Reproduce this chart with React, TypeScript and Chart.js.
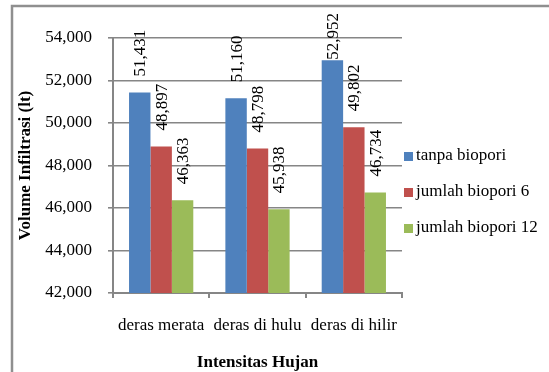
import React, { useEffect, useRef } from "react";
import { Chart, registerables } from "chart.js";

Chart.register(...registerables);

const categories = ["deras merata", "deras di hulu", "deras di hilir"];
const seriesNames = ["tanpa biopori", "jumlah biopori 6", "jumlah biopori 12"];
const tanpaBiopori = [51431, 51160, 52952];
const biopori6 = [48897, 48798, 49802];
const biopori12 = [46363, 45938, 46734];
const seriesColors = ["#4F81BD", "#C0504D", "#9BBB59"];
const yMin = 42000;
const yMax = 54000;
const yStep = 2000;
const xTitle = "Intensitas Hujan";
const yTitle = "Volume Infiltrasi (lt)";

const FONT = "'Liberation Serif', 'Times New Roman', serif";
const GRID = "#868686";

const fmt = (v: number) => v.toLocaleString("en-US");

// Frame, axis titles, legend and rotated value labels
const decorations = {
  id: "decorations",
  beforeDraw(chart: any) {
    const ctx = chart.ctx;
    ctx.save();
    ctx.fillStyle = "#ffffff";
    ctx.fillRect(0, 0, chart.width, chart.height);
    ctx.strokeStyle = "#8f8f8f";
    ctx.lineWidth = 2.5;
    ctx.strokeRect(12, 6, chart.width + 40, chart.height + 40);
    ctx.restore();
  },
  afterDatasetsDraw(chart: any) {
    const ctx = chart.ctx;
    ctx.save();
    ctx.font = `17px ${FONT}`;
    ctx.fillStyle = "#000";
    ctx.textAlign = "left";
    ctx.textBaseline = "middle";
    chart.data.datasets.forEach((ds: any, di: number) => {
      const meta = chart.getDatasetMeta(di);
      meta.data.forEach((bar: any, i: number) => {
        const text = fmt(ds.data[i]);
        const w = ctx.measureText(text).width;
        const start = Math.max(bar.y - 16, 13 + w);
        ctx.save();
        ctx.translate(bar.x + 1, start);
        ctx.rotate(-Math.PI / 2);
        ctx.fillText(text, 0, 0);
        ctx.restore();
      });
    });
    ctx.restore();
  },
  afterDraw(chart: any) {
    const ctx = chart.ctx;
    const area = chart.chartArea;
    ctx.save();
    ctx.fillStyle = "#000";
    ctx.font = `bold 17px ${FONT}`;
    ctx.textAlign = "center";
    ctx.textBaseline = "middle";
    ctx.fillText(xTitle, (area.left + area.right) / 2, 363);
    ctx.save();
    ctx.translate(26, (area.top + area.bottom) / 2);
    ctx.rotate(-Math.PI / 2);
    ctx.fillText(yTitle, 0, 0);
    ctx.restore();

    ctx.font = `17px ${FONT}`;
    ctx.textAlign = "left";
    seriesNames.forEach((name, i) => {
      const y = 156 + i * 36;
      ctx.fillStyle = seriesColors[i];
      ctx.fillRect(404, y - 4, 9, 9);
      ctx.fillStyle = "#000";
      ctx.fillText(name, 416, y);
    });
    ctx.restore();
  },
};

export default function App() {
  const ref = useRef<HTMLCanvasElement | null>(null);

  useEffect(() => {
    if (!ref.current) return;
    const values = [tanpaBiopori, biopori6, biopori12];
    const chart = new Chart(ref.current, {
      type: "bar",
      data: {
        labels: categories,
        datasets: seriesNames.map((name, i) => ({
          label: name,
          data: values[i],
          backgroundColor: seriesColors[i],
          borderWidth: 0,
          categoryPercentage: 0.667,
          barPercentage: 1,
        })),
      },
      options: {
        animation: false,
        responsive: false,
        maintainAspectRatio: false,
        layout: { padding: { top: 38, right: 147, bottom: 0, left: 0 } },
        plugins: {
          legend: { display: false },
          tooltip: { enabled: false },
        },
        scales: {
          x: {
            grid: {
              drawOnChartArea: false,
              drawTicks: true,
              tickLength: 5,
              color: GRID,
              lineWidth: 2,
            },
            border: { display: true, color: GRID, width: 2 },
            ticks: {
              color: "#000",
              font: { family: FONT, size: 17 },
              padding: 17,
              maxRotation: 0,
            },
            afterFit(scale: any) {
              scale.height = 79;
            },
          },
          y: {
            min: yMin,
            max: yMax,
            ticks: {
              stepSize: yStep,
              color: "#000",
              font: { family: FONT, size: 17 },
              padding: 16,
              callback: (v: any) => fmt(Number(v)),
            },
            grid: {
              color: GRID,
              lineWidth: 1.6,
              drawTicks: true,
              tickLength: 5,
            },
            border: { display: true, color: GRID, width: 2 },
            afterFit(scale: any) {
              scale.width = 113;
            },
          },
        },
      },
      plugins: [decorations],
    });
    return () => chart.destroy();
  }, []);

  return (
    <div style={{ position: "absolute", left: 0, top: 0, width: 549, height: 372 }}>
      <canvas ref={ref} width={549} height={372} style={{ display: "block" }} />
    </div>
  );
}
